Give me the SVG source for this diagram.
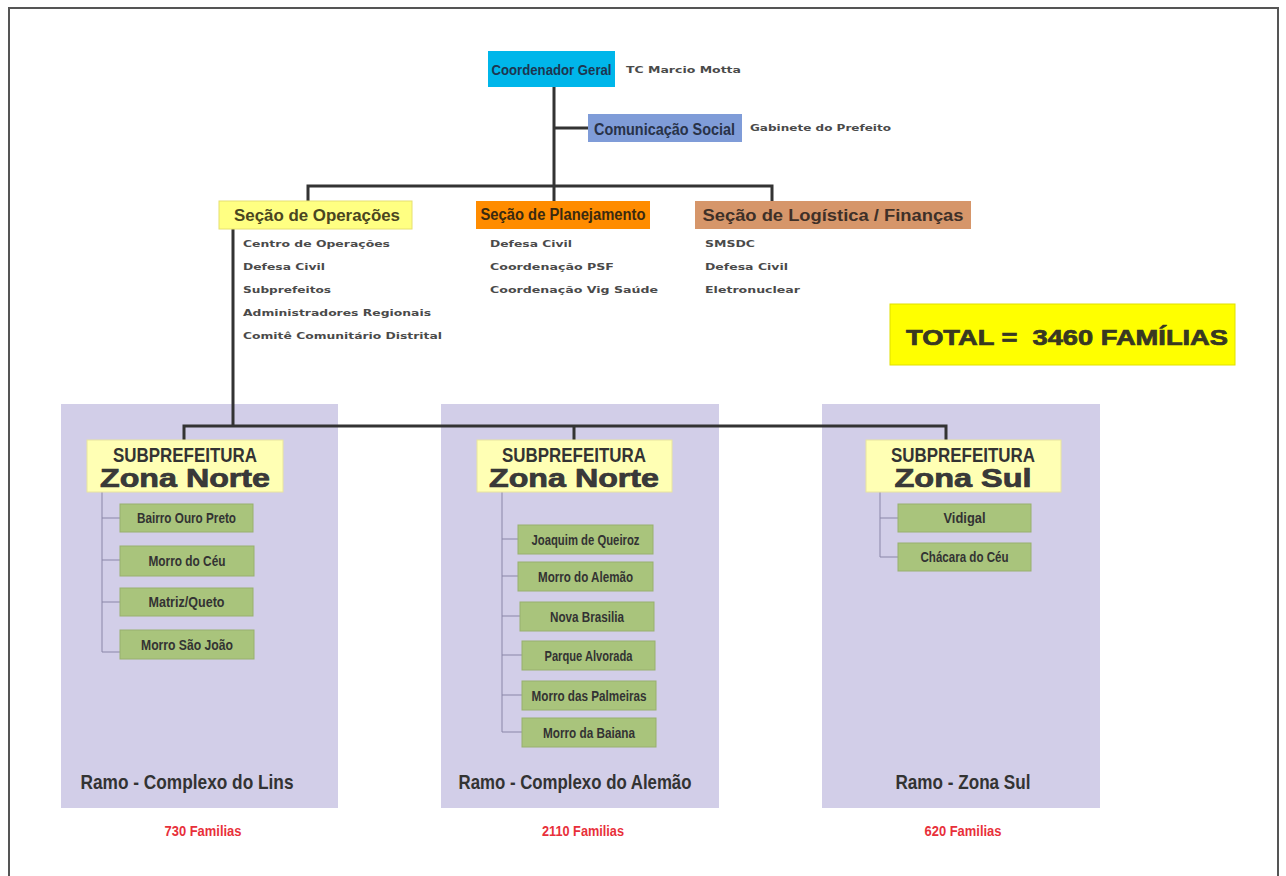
<svg xmlns="http://www.w3.org/2000/svg" width="1286" height="876" viewBox="0 0 1286 876">
<style>
.n{font-family:"Liberation Sans Narrow","Liberation Sans",Arial,sans-serif;font-weight:bold;fill:#333}
.w{font-family:"Liberation Sans",Arial,sans-serif;font-weight:bold;fill:#3a3a3a}
.s{font-family:"DejaVu Sans",Verdana,sans-serif;font-weight:bold;font-size:9.5px;fill:#4a4a4a}
.red{font-family:"Liberation Sans Narrow","Liberation Sans",Arial,sans-serif;font-weight:bold;fill:#e8303a;font-size:14px}
.panel{fill:#d2cee8}
.sub{fill:#ffffb4;stroke:#e8e3a0;stroke-width:1}
.g{fill:#a9c47c;stroke:#98b06e;stroke-width:1}
.c{fill:none;stroke:#333;stroke-width:3}
.t{fill:none;stroke:#8a86a8;stroke-width:1}
.hv{stroke:#333;stroke-width:0.7}
</style>
<rect x="0" y="0" width="1286" height="876" fill="#ffffff"/>
<rect x="9" y="8" width="1269" height="880" fill="none" stroke="#555" stroke-width="2"/>

<g id="panels">
<rect class="panel" x="61" y="404" width="277" height="404"/>
<rect class="panel" x="441" y="404" width="278" height="404"/>
<rect class="panel" x="822" y="404" width="278" height="404"/>
</g>

<g id="connectors">
<path class="c" d="M554 87V186M554 128H588M308 201V186H772V201M554 186V201"/>
<path class="c" d="M233 229V426M184 440V426H946V440M574 426V440"/>
<path class="t" d="M102 492V652H120M102 518H120M102 560H120M102 602H120"/>
<path class="t" d="M502 492V732H522M502 539H518M502 576H518M502 616H520M502 655H522M502 695H522"/>
<path class="t" d="M880 492V557H898M880 518H898"/>
</g>

<g id="coord">
<rect x="488" y="51" width="127" height="36" fill="#00b6ea"/>
<text class="n" x="551.5" y="75" font-size="15" text-anchor="middle" textLength="120" lengthAdjust="spacingAndGlyphs" style="fill:#1d3550">Coordenador Geral</text>
<text class="s" x="626" y="73" textLength="115" lengthAdjust="spacingAndGlyphs">TC Marcio Motta</text>
</g>

<g id="comunicacao">
<rect x="588" y="114" width="154" height="28" fill="#7f9cd8"/>
<text class="n" x="594" y="135" font-size="16" textLength="141" lengthAdjust="spacingAndGlyphs" style="fill:#283248">Comunicação Social</text>
<text class="s" x="750" y="131" textLength="141" lengthAdjust="spacingAndGlyphs">Gabinete do Prefeito</text>
</g>

<g id="operacoes">
<rect x="219" y="201" width="193" height="28" fill="#ffff82" stroke="#e6e070"/>
<text class="w" x="317" y="221" font-size="16" text-anchor="middle" textLength="166" lengthAdjust="spacingAndGlyphs" style="fill:#4a4620">Seção de Operações</text>
<text class="s" x="243" y="247" textLength="147" lengthAdjust="spacingAndGlyphs">Centro de Operações</text>
<text class="s" x="243" y="270" textLength="82" lengthAdjust="spacingAndGlyphs">Defesa Civil</text>
<text class="s" x="243" y="293" textLength="88" lengthAdjust="spacingAndGlyphs">Subprefeitos</text>
<text class="s" x="243" y="316" textLength="188" lengthAdjust="spacingAndGlyphs">Administradores Regionais</text>
<text class="s" x="243" y="339" textLength="199" lengthAdjust="spacingAndGlyphs">Comitê Comunitário Distrital</text>
</g>

<g id="planejamento">
<rect x="476" y="201" width="174" height="28" fill="#ff8c00"/>
<text class="n" x="563" y="220" font-size="16" text-anchor="middle" textLength="165" lengthAdjust="spacingAndGlyphs" style="fill:#3a2a10">Seção de Planejamento</text>
<text class="s" x="490" y="247" textLength="82" lengthAdjust="spacingAndGlyphs">Defesa Civil</text>
<text class="s" x="490" y="270" textLength="124" lengthAdjust="spacingAndGlyphs">Coordenação PSF</text>
<text class="s" x="490" y="293" textLength="168" lengthAdjust="spacingAndGlyphs">Coordenação Vig Saúde</text>
</g>

<g id="logistica">
<rect x="695" y="201" width="276" height="28" fill="#d6966a"/>
<text class="w" x="833" y="221" font-size="16" text-anchor="middle" textLength="261" lengthAdjust="spacingAndGlyphs" style="fill:#3e3028">Seção de Logística / Finanças</text>
<text class="s" x="705" y="247" textLength="50" lengthAdjust="spacingAndGlyphs">SMSDC</text>
<text class="s" x="705" y="270" textLength="83" lengthAdjust="spacingAndGlyphs">Defesa Civil</text>
<text class="s" x="705" y="293" textLength="95" lengthAdjust="spacingAndGlyphs">Eletronuclear</text>
</g>

<g id="total">
<rect x="890" y="304" width="345" height="61" fill="#ffff00" stroke="#e0e000"/>
<text class="w hv" x="906" y="345" font-size="22" xml:space="preserve" textLength="322" lengthAdjust="spacingAndGlyphs" style="fill:#3a3a1a">TOTAL =  3460 FAMÍLIAS</text>
</g>

<g id="lins">
<rect class="sub" x="87" y="440" width="196" height="52"/>
<text class="n" x="185" y="462" font-size="21" text-anchor="middle" textLength="144" lengthAdjust="spacingAndGlyphs">SUBPREFEITURA</text>
<text class="w hv" x="185" y="487" font-size="25" text-anchor="middle" textLength="170" lengthAdjust="spacingAndGlyphs">Zona Norte</text>
<rect class="g" x="120" y="504" width="133" height="28"/>
<text class="n" x="186.5" y="523" font-size="14" text-anchor="middle" textLength="99" lengthAdjust="spacingAndGlyphs">Bairro Ouro Preto</text>
<rect class="g" x="120" y="546" width="134" height="30"/>
<text class="n" x="187" y="566" font-size="14" text-anchor="middle" textLength="77" lengthAdjust="spacingAndGlyphs">Morro do Céu</text>
<rect class="g" x="120" y="588" width="133" height="28"/>
<text class="n" x="186.5" y="607" font-size="14" text-anchor="middle" textLength="76" lengthAdjust="spacingAndGlyphs">Matriz/Queto</text>
<rect class="g" x="120" y="630" width="134" height="29"/>
<text class="n" x="187" y="650" font-size="14" text-anchor="middle" textLength="92" lengthAdjust="spacingAndGlyphs">Morro São João</text>
<text class="n" x="187" y="789" font-size="21" text-anchor="middle" textLength="213" lengthAdjust="spacingAndGlyphs">Ramo - Complexo do Lins</text>
<text class="red" x="203" y="836" text-anchor="middle" textLength="77" lengthAdjust="spacingAndGlyphs">730 Familias</text>
</g>

<g id="alemao">
<rect class="sub" x="477" y="440" width="195" height="52"/>
<text class="n" x="574" y="462" font-size="21" text-anchor="middle" textLength="144" lengthAdjust="spacingAndGlyphs">SUBPREFEITURA</text>
<text class="w hv" x="574" y="487" font-size="25" text-anchor="middle" textLength="170" lengthAdjust="spacingAndGlyphs">Zona Norte</text>
<rect class="g" x="518" y="525" width="135" height="29"/>
<text class="n" x="585.5" y="545" font-size="14" text-anchor="middle" textLength="108" lengthAdjust="spacingAndGlyphs">Joaquim de Queiroz</text>
<rect class="g" x="518" y="562" width="135" height="29"/>
<text class="n" x="585.5" y="582" font-size="14" text-anchor="middle" textLength="95" lengthAdjust="spacingAndGlyphs">Morro do Alemão</text>
<rect class="g" x="520" y="602" width="134" height="29"/>
<text class="n" x="587" y="622" font-size="14" text-anchor="middle" textLength="74" lengthAdjust="spacingAndGlyphs">Nova Brasilia</text>
<rect class="g" x="522" y="641" width="133" height="29"/>
<text class="n" x="588.5" y="661" font-size="14" text-anchor="middle" textLength="88" lengthAdjust="spacingAndGlyphs">Parque Alvorada</text>
<rect class="g" x="522" y="681" width="134" height="29"/>
<text class="n" x="589" y="701" font-size="14" text-anchor="middle" textLength="115" lengthAdjust="spacingAndGlyphs">Morro das Palmeiras</text>
<rect class="g" x="522" y="718" width="134" height="29"/>
<text class="n" x="589" y="738" font-size="14" text-anchor="middle" textLength="92" lengthAdjust="spacingAndGlyphs">Morro da Baiana</text>
<text class="n" x="575" y="789" font-size="21" text-anchor="middle" textLength="233" lengthAdjust="spacingAndGlyphs">Ramo - Complexo do Alemão</text>
<text class="red" x="583" y="836" text-anchor="middle" textLength="82" lengthAdjust="spacingAndGlyphs">2110 Familias</text>
</g>

<g id="zonasul">
<rect class="sub" x="866" y="440" width="195" height="52"/>
<text class="n" x="963" y="462" font-size="21" text-anchor="middle" textLength="144" lengthAdjust="spacingAndGlyphs">SUBPREFEITURA</text>
<text class="w hv" x="963" y="487" font-size="25" text-anchor="middle" textLength="137" lengthAdjust="spacingAndGlyphs">Zona Sul</text>
<rect class="g" x="898" y="504" width="133" height="28"/>
<text class="n" x="964.5" y="523" font-size="14" text-anchor="middle" textLength="42" lengthAdjust="spacingAndGlyphs">Vidigal</text>
<rect class="g" x="898" y="543" width="133" height="28"/>
<text class="n" x="964.5" y="562" font-size="14" text-anchor="middle" textLength="88" lengthAdjust="spacingAndGlyphs">Chácara do Céu</text>
<text class="n" x="963" y="789" font-size="21" text-anchor="middle" textLength="135" lengthAdjust="spacingAndGlyphs">Ramo - Zona Sul</text>
<text class="red" x="963" y="836" text-anchor="middle" textLength="77" lengthAdjust="spacingAndGlyphs">620 Familias</text>
</g>
</svg>
